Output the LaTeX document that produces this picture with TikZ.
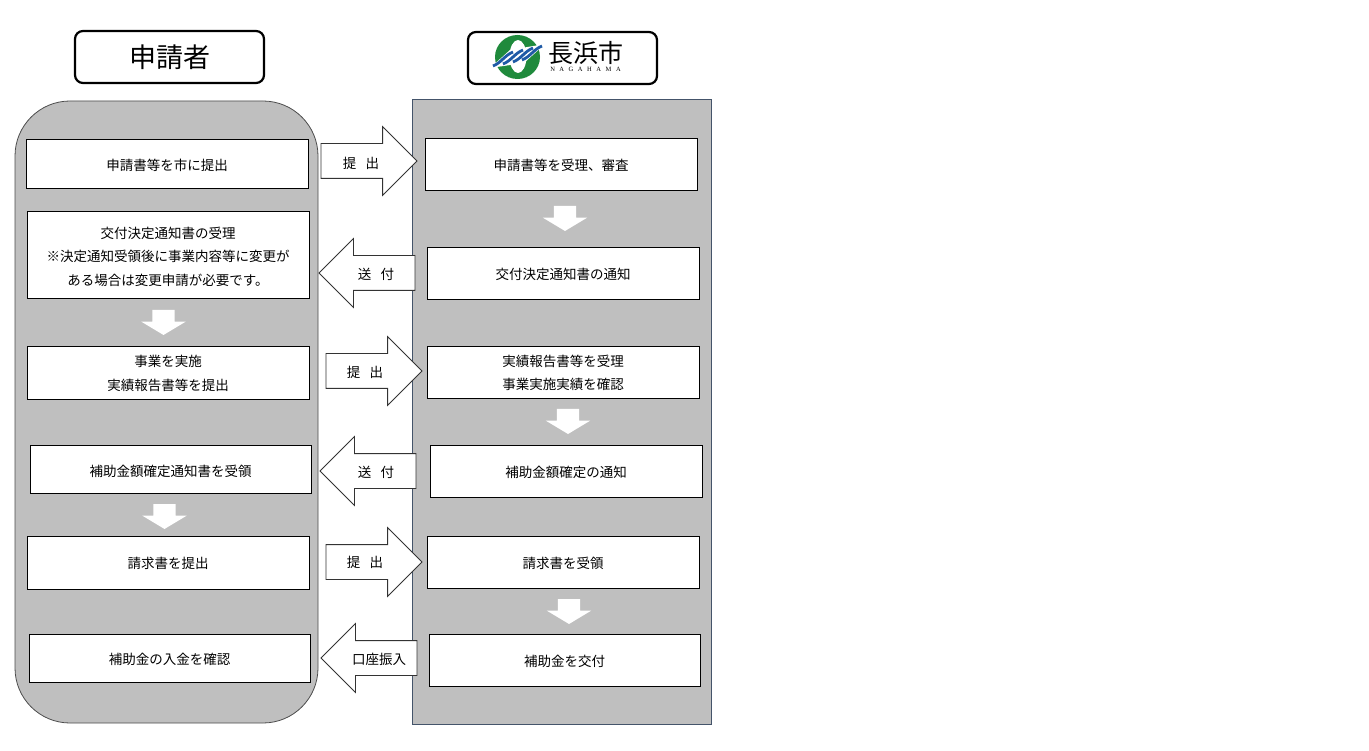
\documentclass[tikz,border=0pt]{standalone}
\usepackage{fontspec}
\usepackage{xcolor}
\usetikzlibrary{shapes.arrows}
\setmainfont{Noto Sans CJK JP}
\newfontfamily\logolatin[LetterSpace=70]{Liberation Serif}
\definecolor{panel-bg}{HTML}{BFBFBF}
\definecolor{panel-edge}{HTML}{44546A}
\definecolor{logo-green}{HTML}{1F8A3C}
\definecolor{logo-blue}{HTML}{1F5AA6}
\tikzset{
  stepbox/.style={draw=black, fill=white, line width=0.9pt, inner sep=0pt},
  steptext/.style={align=center, inner sep=0pt, font=\fontsize{13.5}{23.5}\selectfont},
  titlebox/.style={draw=black, fill=white, line width=2.2pt, rounded corners=8,
    minimum width=189, minimum height=52, inner sep=0pt},
  bigarrow/.style={single arrow, draw=black!80, fill=white, line width=0.8pt, inner sep=17,
    outer sep=0pt, single arrow tip angle=90, single arrow head extend=17, minimum width=68,
    minimum height=96, anchor=tail},
  downarrow/.style={single arrow, fill=white, inner xsep=11, inner ysep=0pt, outer sep=0pt,
    single arrow tip angle=118, single arrow head extend=11, minimum width=44,
    minimum height=25, shape border rotate=270, anchor=tail},
  arrowtext/.style={font=\fontsize{13.5}{16}\selectfont, inner sep=0pt}
}
\begin{document}
\begin{tikzpicture}[x=1pt, y=-1pt]
  % Coordinates: (x, y) -- pixels of the reference, y runs downwards.
  \useasboundingbox (0,0) rectangle (1369,751);
  % two grey panels behind the steps
  \node[draw=black!70, fill=panel-bg, line width=0.8pt, rounded corners=55, minimum width=303,
        minimum height=622, inner sep=0pt] (applicant) at (166.5,412) {};
  \node[draw=panel-edge, fill=panel-bg, line width=0.8pt, minimum width=299,
        minimum height=625, inner sep=0pt] (city) at (561.5,411.5) {};
  % headers
  \node[titlebox, font=\fontsize{27}{30}\selectfont] (applicanthead) at (169.5,57) {申請者};
  \node[titlebox] (cityhead) at (562.5,58) {};
  % logo: green ring, white oval, blue stripes
  \fill[logo-green] (517.5,57) ellipse [x radius=22.5, y radius=22];
  \fill[white] (518,56.5) ellipse [x radius=8.5, y radius=16.5];
  \fill[white] (490,68) -- (510,50) -- (545,44) -- (524,63) -- cycle;
  \foreach \sx/\sy in {493/66, 503/64, 513/62, 522/60} {
    \draw[logo-blue, line width=2.8pt] (\sx,\sy) .. controls (\sx+8,\sy-3) and (\sx+12,\sy-11) .. (\sx+20,\sy-14);
  }
  \node[font=\fontsize{25}{27}\selectfont, inner sep=0pt] (cityname) at (585.5,53) {長浜市};
  \node[font=\fontsize{6.5}{7}\logolatin, inner sep=0pt] (cityroman) at (585.5,69.5) {NAGAHAMA};
  % steps, applicant side
  \foreach \name/\cx/\cy/\w/\h/\ty/\lab in {
      l1/167/163.5/282/49/165.5/{申請書等を市に提出},
      l2/168/254.5/282/87/256.5/{交付決定通知書の受理\\※決定通知受領後に事業内容等に変更が\\ある場合は変更申請が必要です。},
      l3/168/372.5/282/53/373.5/{事業を実施\\実績報告書等を提出},
      l4/170.5/469/281/48/471/{補助金額確定通知書を受領},
      l5/168/562.5/282/53/563.5/{請求書を提出},
      l6/169.5/658/281/48/659/{補助金の入金を確認}} {
    \node[stepbox, minimum width=\w, minimum height=\h] (\name) at (\cx,\cy) {};
    \node[steptext] (\name text) at (\cx,\ty) {\lab};
  }
  % steps, city side
  \foreach \name/\cx/\cy/\w/\h/\ty/\lab in {
      r1/561/164/272/52/165/{申請書等を受理、審査},
      r2/563/273/272/52/274/{交付決定通知書の通知},
      r3/563/372/272/52/373/{実績報告書等を受理\\事業実施実績を確認},
      r4/566/471/272/52/472/{補助金額確定の通知},
      r5/563/562/272/52/563/{請求書を受領},
      r6/564.5/660/271/52/661/{補助金を交付}} {
    \node[stepbox, minimum width=\w, minimum height=\h] (\name) at (\cx,\cy) {};
    \node[steptext] (\name text) at (\cx,\ty) {\lab};
  }
  % block arrows between the panels
  \foreach \name/\tx/\ty/\rot/\lx/\ly/\lab in {
      a1/321/161/0/361/163/{提\hspace{0.7em}出},
      a2/415/273/180/376/274/{送\hspace{0.7em}付},
      a3/326/371/0/365/372/{提\hspace{0.7em}出},
      a4/416/471/180/376/472/{送\hspace{0.7em}付},
      a5/326/562/0/365/562/{提\hspace{0.7em}出},
      a6/417/658/180/379/659/{口座振入}} {
    \node[bigarrow, shape border rotate=\rot] (\name) at (\tx,\ty) {};
    \node[arrowtext] (\name text) at (\lx,\ly) {\lab};
  }
  % white arrows inside the panels
  \foreach \name/\tx/\ty in {d1/163.5/310, d2/164.5/504, d3/565/206, d4/568/409, d5/569/599}
    \node[downarrow] (\name) at (\tx,\ty) {};
\end{tikzpicture}
\end{document}
